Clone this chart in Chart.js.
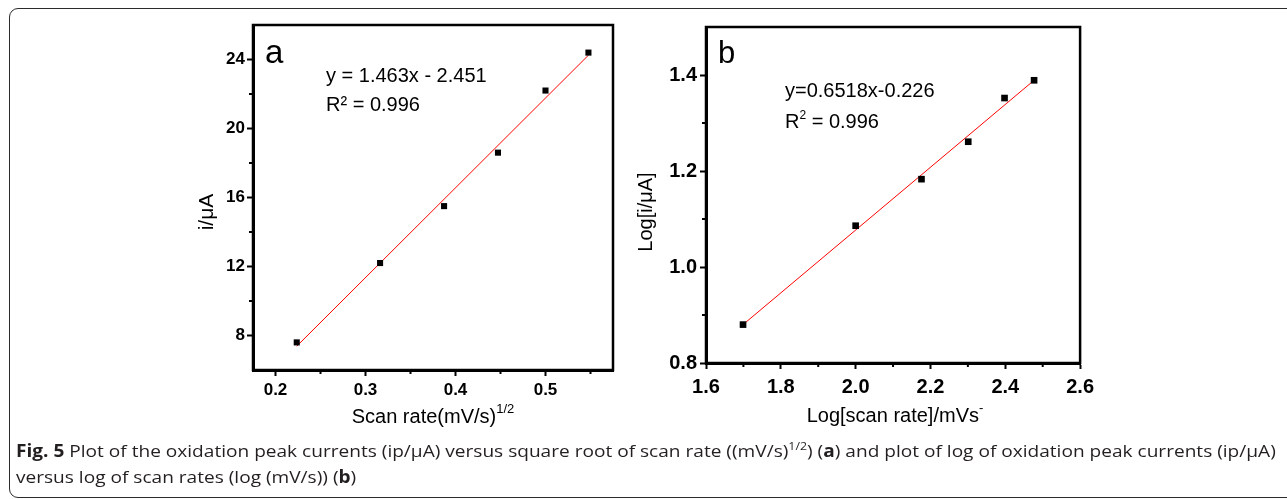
<!DOCTYPE html>
<html>
<head>
<meta charset="utf-8">
<script src="https://cdn.jsdelivr.net/npm/chart.js@4"></script>
<style>
  html, body { margin: 0; padding: 0; background: #fff; overflow: hidden; width: 1287px; height: 499px; }
  #frame { position: absolute; left: 9px; top: 8px; width: 1400px; height: 488px; border: 1.5px solid #2b2b2b; border-radius: 9px; }
  canvas { position: absolute; }
  #chartA { left: 190px; top: 0; }
  #chartB { left: 620px; top: 0; }
  #caption { position: absolute; left: 16px; top: 438px; font-family: "Open Sans"; font-size: 17px; line-height: 26px; color: #231f20; white-space: nowrap; transform: scaleX(1.122); transform-origin: 0 0; }
  #caption sup { font-size: 11px; vertical-align: 7px; line-height: 0; }
</style>
</head>
<body>
<div id="frame"></div>
<canvas id="chartA" width="430" height="440"></canvas>
<canvas id="chartB" width="480" height="440"></canvas>
<div id="caption"><b>Fig. 5</b> Plot of the oxidation peak currents (ip/μA) versus square root of scan rate ((mV/s)<sup>1/2</sup>) (<b>a</b>) and plot of log of oxidation peak currents (ip/μA)<br>versus log of scan rates (log (mV/s)) (<b>b</b>)</div>

<script>
// panel a: peak current vs square root of scan rate
const sqrtScanRate = [0.2236, 0.3162, 0.3873, 0.4472, 0.5, 0.5477];
const peakCurrent = [7.6, 12.2, 15.5, 18.6, 22.2, 24.4];
const fitAx = [0.2236, 0.5477];
const fitAy = [7.38, 24.25];
const aXMajor = [0.2, 0.3, 0.4, 0.5];
const aXMinor = [0.25, 0.35, 0.45, 0.55];
const aYMajor = [8, 12, 16, 20, 24];
const aYMinor = [10, 14, 18, 22];

// panel b: log current vs log scan rate
const logScanRate = [1.699, 2.0, 2.176, 2.301, 2.398, 2.477];
const logCurrent = [0.88, 1.086, 1.183, 1.261, 1.352, 1.389];
const fitBx = [1.699, 2.477];
const fitBy = [0.88, 1.389];
const bXMajor = [1.6, 1.8, 2.0, 2.2, 2.4, 2.6];
const bXMinor = [1.7, 1.9, 2.1, 2.3, 2.5];
const bYMajor = [0.8, 1.0, 1.2, 1.4];
const bYMinor = [0.9, 1.1, 1.3];

const FONT = "'Liberation Sans', Arial, sans-serif";

const has = (arr, v) => arr.some(a => Math.abs(a - v) < 1e-9);
const pts = (xs, ys) => xs.map((x, i) => ({ x, y: ys[i] }));

function drawRich(ctx, item, x, y) {
  ctx.save();
  ctx.translate(x, y);
  if (item.rotate) ctx.rotate(-Math.PI / 2);
  ctx.fillStyle = '#000';
  ctx.textBaseline = item.baseline || 'alphabetic';
  ctx.textAlign = 'left';
  const widths = item.parts.map(p => {
    ctx.font = `${p.size}px ${FONT}`;
    return ctx.measureText(p.t).width;
  });
  const total = widths.reduce((s, w) => s + w, 0);
  let cx = item.align === 'center' ? -total / 2 : 0;
  item.parts.forEach((p, i) => {
    ctx.font = `${p.size}px ${FONT}`;
    ctx.fillText(p.t, cx, p.dy || 0);
    cx += widths[i];
  });
  ctx.restore();
}

const figText = {
  id: 'figText',
  afterDraw(chart, args, o) {
    const { ctx, chartArea: a, scales } = chart;
    ctx.save();
    // frame box
    ctx.strokeStyle = '#000';
    ctx.lineWidth = 2.5;
    ctx.strokeRect(a.left, a.top, a.right - a.left, a.bottom - a.top);
    // minor ticks, shorter than major
    ctx.lineWidth = 2;
    ctx.beginPath();
    o.xMinor.forEach(v => {
      const px = scales.x.getPixelForValue(v);
      ctx.moveTo(px, a.bottom);
      ctx.lineTo(px, a.bottom + 4);
    });
    o.yMinor.forEach(v => {
      const py = scales.y.getPixelForValue(v);
      ctx.moveTo(a.left, py);
      ctx.lineTo(a.left - 4, py);
    });
    ctx.stroke();
    ctx.restore();
    o.items.forEach(it => drawRich(ctx, it, a.left + it.dx, a.top + it.dy));
  }
};

function axis(min, max, major, minor, decimals, size, pad, fitSize, isX) {
  return {
    type: 'linear',
    min, max,
    afterBuildTicks: s => { s.ticks = major.concat(minor).sort((p, q) => p - q).map(v => ({ value: v })); },
    afterFit: s => { if (isX) s.height = fitSize; else s.width = fitSize; },
    border: { display: true, color: '#000', width: 3 },
    grid: {
      drawOnChartArea: false,
      drawTicks: true,
      tickLength: 6,
      tickWidth: 2,
      tickColor: c => (c.tick && has(major, c.tick.value)) ? '#000' : 'rgba(0,0,0,0)'
    },
    ticks: {
      color: '#000',
      autoSkip: false,
      maxRotation: 0,
      padding: pad,
      font: { family: FONT, size, weight: 'bold' },
      callback: v => has(major, v) ? v.toFixed(decimals) : ''
    }
  };
}

function makeChart(id, cfg) {
  return new Chart(document.getElementById(id), {
    data: {
      datasets: [
        {
          type: 'scatter',
          data: pts(cfg.xs, cfg.ys),
          pointStyle: 'rect',
          pointRadius: cfg.pointRadius,
          backgroundColor: '#000',
          borderWidth: 0,
          clip: false
        },
        {
          type: 'line',
          data: pts(cfg.fitX, cfg.fitY),
          borderColor: '#ff0000',
          borderWidth: 1,
          pointRadius: 0,
          clip: false
        }
      ]
    },
    options: {
      responsive: false,
      animation: false,
      events: [],
      layout: { padding: cfg.padding },
      scales: { x: cfg.x, y: cfg.y },
      plugins: {
        legend: { display: false },
        tooltip: { enabled: false },
        figText: cfg.text
      }
    },
    plugins: [figText]
  });
}

makeChart('chartA', {
  xs: sqrtScanRate, ys: peakCurrent, fitX: fitAx, fitY: fitAy,
  pointRadius: 4.3,
  padding: { left: 0, right: 7, top: 25, bottom: 0 },
  x: axis(0.175, 0.575, aXMajor, aXMinor, 1, 17, 4, 70, true),
  y: axis(6, 26, aYMajor, aYMinor, 0, 17, 2, 63, false),
  text: {
    xMinor: aXMinor, yMinor: aYMinor,
    items: [
      { dx: 12, dy: 38, parts: [{ t: 'a', size: 33 }] },
      { dx: 73, dy: 57, parts: [{ t: 'y = 1.463x - 2.451', size: 20 }] },
      { dx: 73, dy: 86, parts: [{ t: 'R² = 0.996', size: 20 }] },
      { dx: 180, dy: 398, align: 'center', parts: [{ t: 'Scan rate(mV/s)', size: 20 }, { t: '1/2', size: 13, dy: -10 }] },
      { dx: -46, dy: 187, align: 'center', rotate: true, baseline: 'middle', parts: [{ t: 'i/μA', size: 21 }] }
    ]
  }
});

makeChart('chartB', {
  xs: logScanRate, ys: logCurrent, fitX: fitBx, fitY: fitBy,
  pointRadius: 4.7,
  padding: { left: 0, right: 8, top: 27, bottom: 0 },
  x: axis(1.6, 2.6, bXMajor, bXMinor, 1, 20, 6, 77, true),
  y: axis(0.8, 1.5, bYMajor, bYMinor, 1, 20, 3, 86, false),
  text: {
    xMinor: bXMinor, yMinor: bYMinor,
    items: [
      { dx: 12, dy: 36, parts: [{ t: 'b', size: 31 }] },
      { dx: 79, dy: 70, parts: [{ t: 'y=0.6518x-0.226', size: 20 }] },
      { dx: 79, dy: 101, parts: [{ t: 'R', size: 20 }, { t: '2', size: 12, dy: -9 }, { t: ' = 0.996', size: 20 }] },
      { dx: 189, dy: 395, align: 'center', parts: [{ t: 'Log[scan rate]/mVs', size: 20 }, { t: '-', size: 13, dy: -10 }] },
      { dx: -60, dy: 185, align: 'center', rotate: true, baseline: 'middle', parts: [{ t: 'Log[i/μA]', size: 20 }] }
    ]
  }
});
</script>
</body>
</html>
